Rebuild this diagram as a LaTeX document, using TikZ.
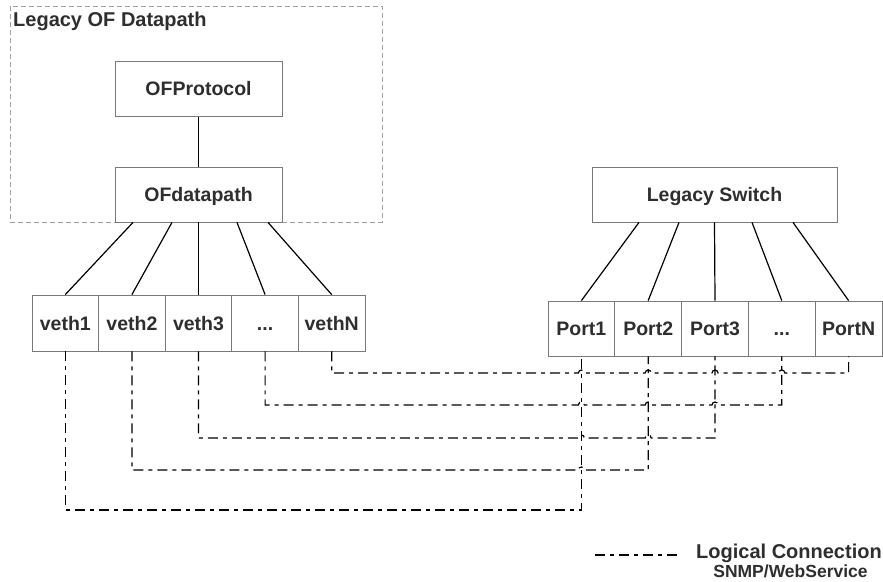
\documentclass[tikz,border=0pt]{standalone}
\usepackage{fontspec}
\setmainfont{Liberation Sans}
\usetikzlibrary{calc}
\definecolor{txt}{HTML}{2E2E2E}
\definecolor{edge}{HTML}{7A7A7A}
\definecolor{frame}{HTML}{A0A0A0}
\tikzset{
  unit/.style={draw=edge, line width=0.8bp, fill=white, text=txt,
    font=\fontsize{19.5bp}{22bp}\selectfont\bfseries, inner sep=0pt,
    text height=14bp, text depth=0pt},
  bigbox/.style={unit, minimum width=167bp, minimum height=55bp},
  switchbox/.style={unit, minimum width=245bp, minimum height=55bp},
  vcell/.style={unit, minimum width=66.6bp, minimum height=56bp},
  pcell/.style={unit, minimum width=66.8bp, minimum height=55bp},
  wire/.style={line width=1.2bp, black},
  logical/.style={line width=1.2bp, black, dash pattern=on 10bp off 5bp on 4bp off 5bp},
  label/.style={text=txt, inner sep=0pt, font=\fontsize{20bp}{22bp}\selectfont\bfseries},
}
\newcommand{\threedots}{{.}{.}{.}}
\begin{document}
\begin{tikzpicture}[x=1bp, y=-1bp]
  \useasboundingbox (0,0) rectangle (883,582);

  % datapath group frame
  \draw[frame, line width=0.8bp, dash pattern=on 5bp off 3bp] (10,6) rectangle (382,222);
  \node[label, anchor=base west] (title) at (13,27) {Legacy OF Datapath};

  % upper blocks
  \node[bigbox] (proto) at (198.5,89) {OFProtocol};
  \node[bigbox] (dp) at (198.5,194.5) {OFdatapath};
  \draw[wire] (proto.south) -- (dp.north);

  \node[switchbox] (sw) at (714.5,194.5) {Legacy Switch};

  % virtual interfaces
  \node[vcell] (v1) at (65.3,323) {veth1};
  \node[vcell] (v2) at (131.9,323) {veth2};
  \node[vcell] (v3) at (198.5,323) {veth3};
  \node[vcell] (v4) at (265.1,323) {\threedots};
  \node[vcell] (v5) at (331.7,323) {vethN};

  % switch ports
  \node[pcell] (p1) at (581.4,328.5) {Port1};
  \node[pcell] (p2) at (648.2,328.5) {Port2};
  \node[pcell] (p3) at (715.0,328.5) {Port3};
  \node[pcell] (p4) at (781.8,328.5) {\threedots};
  \node[pcell] (p5) at (848.6,328.5) {PortN};

  % fan-out from datapath
  \draw[wire] ([xshift=-65.5bp]dp.south) -- (v1.north);
  \draw[wire] ([xshift=-26.5bp]dp.south) -- (v2.north);
  \draw[wire] (dp.south) -- (v3.north);
  \draw[wire] ([xshift=38.5bp]dp.south) -- (v4.north);
  \draw[wire] ([xshift=69.5bp]dp.south) -- (v5.north);

  % fan-out from switch
  \draw[wire] ([xshift=-75.5bp]sw.south) -- (p1.north);
  \draw[wire] ([xshift=-35.5bp]sw.south) -- (p2.north);
  \draw[wire] (sw.south) -- (p3.north);
  \draw[wire] ([xshift=37.5bp]sw.south) -- (p4.north);
  \draw[wire] ([xshift=78.5bp]sw.south) -- (p5.north);

  % levels of the logical links
  \coordinate (r1) at (0,373);
  \coordinate (r2) at (0,405);
  \coordinate (r3) at (0,438);
  \coordinate (r4) at (0,470);
  \coordinate (r5) at (0,510);

  % logical links, hopping over the port drops they cross
  \draw[logical] (v5.south) -- (v5.south |- r1)
    -- ([xshift=-3bp]p1.south |- r1) arc[start angle=180, end angle=0, radius=3bp]
    -- ([xshift=-3bp]p2.south |- r1) arc[start angle=180, end angle=0, radius=3bp]
    -- ([xshift=-3bp]p3.south |- r1) arc[start angle=180, end angle=0, radius=3bp]
    -- ([xshift=-3bp]p4.south |- r1) arc[start angle=180, end angle=0, radius=3bp]
    -- (p5.south |- r1) -- (p5.south);
  \draw[logical] (v4.south) -- (v4.south |- r2)
    -- ([xshift=-3bp]p1.south |- r2) arc[start angle=180, end angle=0, radius=3bp]
    -- ([xshift=-3bp]p2.south |- r2) arc[start angle=180, end angle=0, radius=3bp]
    -- ([xshift=-3bp]p3.south |- r2) arc[start angle=180, end angle=0, radius=3bp]
    -- (p4.south |- r2) -- (p4.south);
  \draw[logical] (v3.south) -- (v3.south |- r3)
    -- ([xshift=-3bp]p1.south |- r3) arc[start angle=180, end angle=0, radius=3bp]
    -- ([xshift=-3bp]p2.south |- r3) arc[start angle=180, end angle=0, radius=3bp]
    -- (p3.south |- r3) -- (p3.south);
  \draw[logical] (v2.south) -- (v2.south |- r4)
    -- ([xshift=-3bp]p1.south |- r4) arc[start angle=180, end angle=0, radius=3bp]
    -- (p2.south |- r4) -- (p2.south);
  \draw[logical] (v1.south) -- (v1.south |- r5)
    -- (p1.south |- r5) -- (p1.south);

  % legend
  \coordinate (lg1) at (595,555);
  \coordinate (lg2) at (677,555);
  \draw[logical] (lg1) -- (lg2);
  \node[label, anchor=base west] (lgtext) at (696,558) {Logical Connection};
  \node[label, anchor=base, font=\fontsize{17.5bp}{19bp}\selectfont\bfseries]
    (lgsub) at (790.5,577) {SNMP/WebService};
\end{tikzpicture}
\end{document}
